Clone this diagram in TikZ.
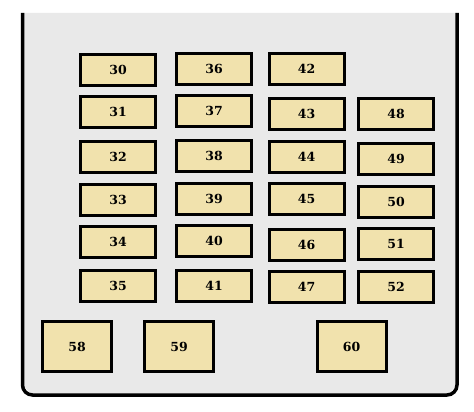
\documentclass[tikz,border=0pt]{standalone}
\usepackage{fontspec}
\newfontfamily\fusefont{DejaVu Serif}
\definecolor{panelgray}{HTML}{E9E9E9}
\definecolor{fusefill}{HTML}{F1E2AD}
\tikzset{
	fuse/.style={draw=black, line width=3pt, fill=fusefill, minimum width=75pt, minimum height=31pt, inner sep=0pt, font=\fusefont\bfseries\fontsize{12.5}{13}\selectfont},
	relay/.style={fuse, minimum width=69pt, minimum height=50pt}
}
\begin{document}
\begin{tikzpicture}[x=1pt,y=-1pt]
	\useasboundingbox (0,0) rectangle (474,412);
	\fill[fill=panelgray](22.5,13)--(22.5,385)--(32.5,395)--(447,395)--(457,385)--(457,13)--cycle;
	\draw[line width=3.5pt,rounded corners=10pt](22.5,13)--(22.5,395)--(457,395)--(457,13);

	\foreach \y/\n [count=\i] in {70/30,111.5/31,157/32,199.5/33,241.5/34,286/35} {{
	     \node[fuse] (f\n) at (118,\y) {\n};
 	}}
	\foreach \y/\n [count=\i] in {69/36,111/37,156/38,199/39,241/40,286/41} {{
	     \node[fuse] (f\n) at (214,\y) {\n};
 	}}
	\foreach \y/\n [count=\i] in {69/42,114/43,157/44,199/45,244.5/46,286.5/47} {{
	     \node[fuse] (f\n) at (306.5,\y) {\n};
 	}}
	\foreach \y/\n [count=\i] in {114/48,159/49,202/50,244/51,286.5/52} {{
	     \node[fuse] (f\n) at (396,\y) {\n};
 	}}

	% koniec bezpiecznikow

	\node[relay] (r58) at (77,346.5) {58};
	\node[relay] (r59) at (179,346.5) {59};
	\node[relay] (r60) at (351.5,346.5) {60};
\end{tikzpicture}
\end{document}
